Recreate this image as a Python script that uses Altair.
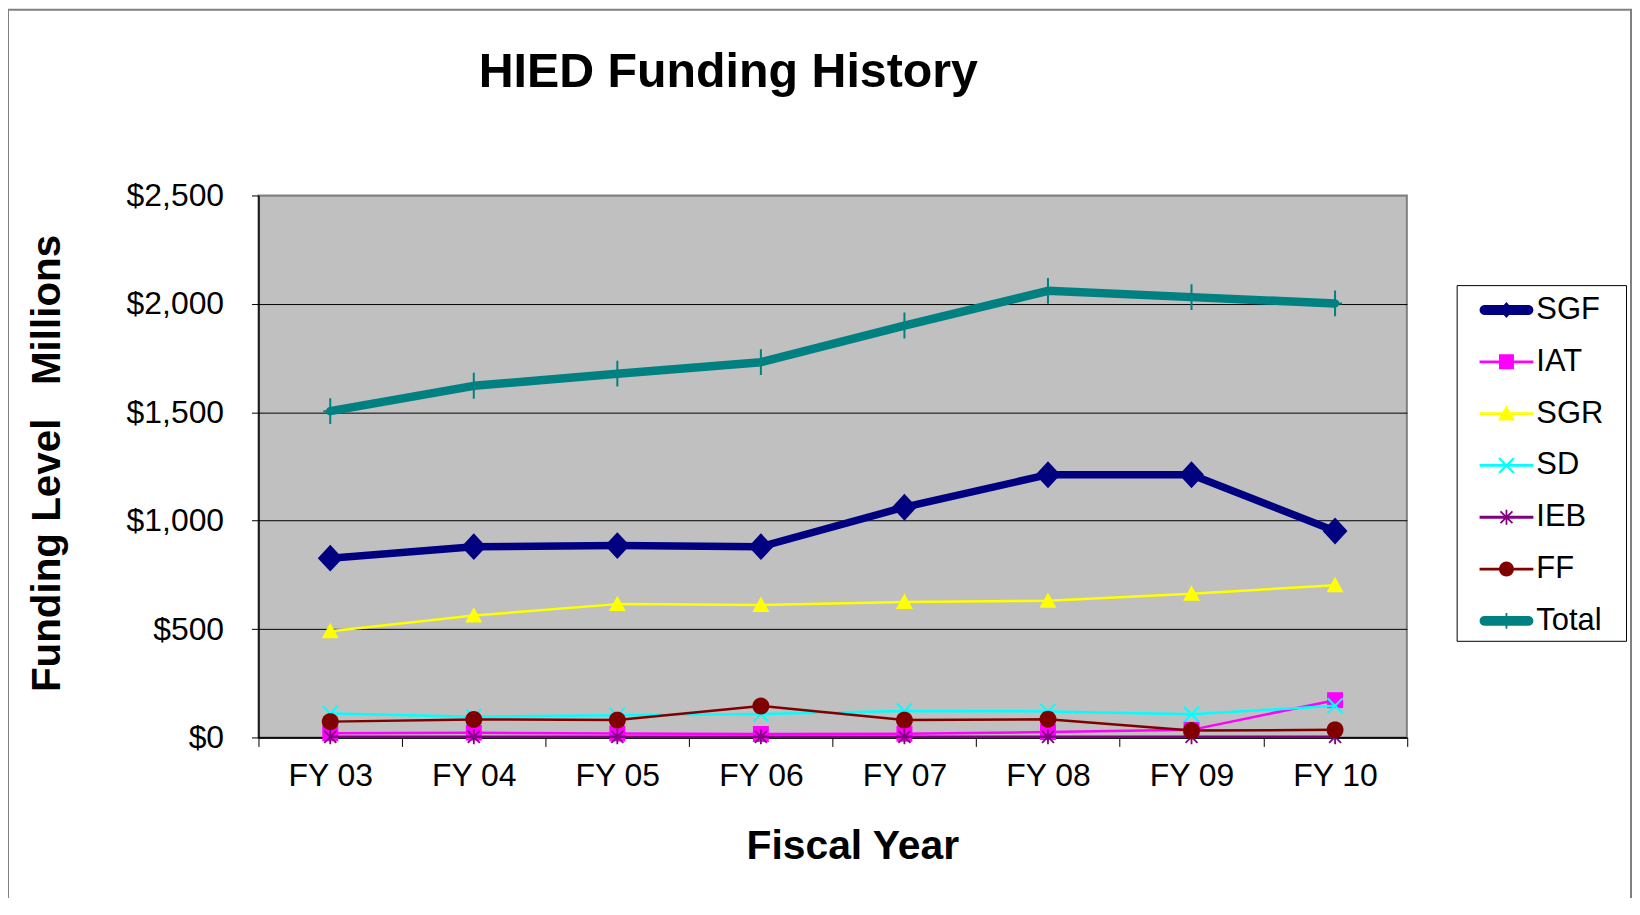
import math
import altair as alt
import pandas as pd

# ---------------- data ----------------
years = ["FY 03", "FY 04", "FY 05", "FY 06", "FY 07", "FY 08", "FY 09", "FY 10"]
series = ["SGF", "IAT", "SGR", "SD", "IEB", "FF", "Total"]
colors = ["#000080", "#FF00FF", "#FFFF00", "#00FFFF", "#800080", "#800000", "#008080"]

sgf = [827, 880, 885, 880, 1062, 1212, 1212, 952]
iat = [19, 22, 18, 16, 17, 25, 35, 172]
sgr = [490, 562, 615, 611, 625, 630, 663, 702]
sd = [110, 96, 102, 108, 122, 120, 107, 146]
ieb = [3, 3, 3, 3, 3, 3, 3, 3]
ff = [73, 83, 80, 145, 80, 84, 32, 35]
total = [1505, 1622, 1678, 1731, 1900, 2060, 2031, 2002]

values = {"SGF": sgf, "IAT": iat, "SGR": sgr, "SD": sd, "IEB": ieb, "FF": ff, "Total": total}
df = pd.DataFrame(
    [{"year": y, "series": s, "value": v} for s in series for y, v in zip(years, values[s])]
)

y_ticks = [0, 500, 1000, 1500, 2000, 2500]

# ---------------- symbol path helpers (styling only) ----------------
def poly(pts, r):
    a = sum(x1 * y2 - x2 * y1 for (x1, y1), (x2, y2) in zip(pts, pts[1:] + pts[:1]))
    if a < 0:
        pts = pts[::-1]
    return "M" + "L".join(f"{x / r:.4f},{y / r:.4f}" for x, y in pts) + "Z"

def seg(x1, y1, x2, y2, hw, r):
    dx, dy = x2 - x1, y2 - y1
    L = math.hypot(dx, dy)
    nx, ny = -dy / L * hw, dx / L * hw
    return poly([(x1 + nx, y1 + ny), (x2 + nx, y2 + ny), (x2 - nx, y2 - ny), (x1 - nx, y1 - ny)], r)

def circle(rad, r, n=28):
    return poly([(rad * math.cos(2 * math.pi * k / n), rad * math.sin(2 * math.pi * k / n)) for k in range(n)], r)

def bar(half_len, hh, r, rounded=False):
    if not rounded:
        return poly([(-half_len, -hh), (half_len, -hh), (half_len, hh), (-half_len, hh)], r)
    pts = []
    n = 10
    x0, x1 = -half_len + hh, half_len - hh
    for k in range(n + 1):
        t = -math.pi / 2 + math.pi * k / n
        pts.append((x1 + hh * math.cos(t), hh * math.sin(t)))
    for k in range(n + 1):
        t = math.pi / 2 + math.pi * k / n
        pts.append((x0 + hh * math.cos(t), hh * math.sin(t)))
    return poly(pts, r)

def markers(r, big):
    d = 12.5 if big else 7
    q = 8 if big else 7.5
    c = 8.5 if big else 7.5
    return {
        "SGF": poly([(0, -(d + 1)), (d, 0), (0, d + 1), (-d, 0)], r),
        "IAT": poly([(-q, -q), (q, -q), (q, q), (-q, q)], r),
        "SGR": poly([(0, -8.5), (8.5, 7), (-8.5, 7)], r),
        "SD": seg(-7.5, -7.5, 7.5, 7.5, 1.0, r) + seg(-7.5, 7.5, 7.5, -7.5, 1.0, r),
        "IEB": seg(-6, -6, 6, 6, 0.9, r) + seg(-6, 6, 6, -6, 0.9, r) + seg(0, -7.5, 0, 7.5, 0.9, r),
        "FF": circle(c, r),
        "Total": (seg(0, -13, 0, 13, 1.0, r) + seg(-7, 0, 7, 0, 1.0, r)) if big
        else seg(0, -8, 0, 8, 0.9, r),
    }

R_CHART = 14.0
R_LEG = 20.0
chart_markers = markers(R_CHART, True)
leg_markers = markers(R_LEG, False)
thick = {"SGF": True, "Total": True}
legend_paths = [
    (bar(27, 5, R_LEG, True) if thick.get(s) else bar(27, 1.4, R_LEG)) + leg_markers[s]
    for s in series
]
line_widths = {"SGF": 7.5, "IAT": 2.5, "SGR": 2.5, "SD": 2.5, "IEB": 2.5, "FF": 2.5, "Total": 8.5}

FONT = "Liberation Sans"

# ---------------- geometry ----------------
PAD_L, PAD_T = 251.4, 186.5
W, H = 1152.6, 544
TOTAL_W, TOTAL_H = 1630, 890

x_enc = alt.X(
    "year:N",
    sort=years,
    bandPosition=0.5,
    scale=alt.Scale(type="band", domain=years, paddingInner=0, paddingOuter=0),
    axis=alt.Axis(
        title="Fiscal Year",
        titleFont=FONT, titleFontSize=41, titleFontWeight="bold", titleColor="black",
        titleX=596, titleY=121.6, titleAlign="center", titleBaseline="alphabetic",
        labelFont=FONT, labelFontSize=32, labelColor="black", labelAngle=0,
        labelPadding=14, tickBand="extent", tickSize=9, tickColor="black", tickWidth=1,
        domainColor="black", domainWidth=1.5, grid=False,
    ),
)
y_enc = alt.Y(
    "value:Q",
    scale=alt.Scale(domain=[0, 2500], nice=False),
    axis=alt.Axis(
        values=y_ticks, format="$,.0f",
        title="Funding Level\u00a0\u00a0\u00a0Millions",
        titleFont=FONT, titleFontSize=40.5, titleFontWeight="bold", titleColor="black",
        titleAngle=270, titleX=-199.4, titleY=268.5, titleAlign="center", titleBaseline="alphabetic",
        labelFont=FONT, labelFontSize=32, labelColor="black", labelPadding=28,
        tickSize=7, tickColor="black", tickWidth=1,
        domainColor="black", domainWidth=1.5,
        grid=True, gridWidth=1,
        gridColor={"condition": {"test": "datum.value === 2500", "value": "#808080"}, "value": "black"},
    ),
)

base = alt.Chart(df)
layers = []
for s, col in zip(series, colors):
    sub = base.transform_filter(alt.datum.series == s)
    layers.append(
        sub.mark_line(color=col, strokeWidth=line_widths[s], strokeJoin="round", strokeCap="round")
        .encode(x=x_enc, y=y_enc)
    )
    layers.append(
        sub.mark_point(shape=chart_markers[s], filled=True, size=(2 * R_CHART) ** 2,
                       color=col, opacity=1, strokeWidth=0)
        .encode(x=x_enc, y=y_enc)
    )

legend_def = alt.Legend(
    title="\u00a0", titleOrient="right", titlePadding=18,
    orient="none", legendX=1202.6, legendY=90,
)
legend_layer = base.transform_filter("false").mark_point(filled=True, opacity=1, strokeWidth=0).encode(
    x=x_enc, y=y_enc,
    color=alt.Color("series:N", scale=alt.Scale(domain=series, range=colors), legend=legend_def),
    shape=alt.Shape("series:N", scale=alt.Scale(domain=series, range=legend_paths), legend=legend_def),
)

frame = alt.Chart(pd.DataFrame({"k": [0]})).mark_rect(
    filled=False, stroke="#808080", strokeWidth=2
).encode(
    x=alt.value(-PAD_L), x2=alt.value(1377.6), y=alt.value(-PAD_T), y2=alt.value(900)
)

chart = alt.layer(frame, *layers, legend_layer).properties(
    width=W, height=H,
    background="white",
    title=alt.TitleParams(
        "HIED Funding History", font=FONT, fontSize=48.5, fontWeight="bold", color="black",
        anchor="middle", frame="group", dx=-104.7, offset=-127, baseline="alphabetic",
    ),
    padding={"left": PAD_L, "top": PAD_T, "right": TOTAL_W - PAD_L - W, "bottom": TOTAL_H - PAD_T - H},
    autosize=alt.AutoSizeParams(type="none"),
).configure_view(
    fill="#C0C0C0", stroke="#808080", strokeWidth=2
).configure_legend(
    padding=5, rowPadding=17, symbolSize=(2 * R_LEG) ** 2, symbolOffset=25, labelOffset=10,
    labelFont=FONT, labelFontSize=31, labelColor="black",
    titleFont=FONT, titleFontSize=10, titleColor="white",
    strokeColor="black", fillColor="white", symbolStrokeWidth=0, symbolOpacity=1,
)

chart.save("out.html", embed_options={"renderer": "svg", "actions": False})
